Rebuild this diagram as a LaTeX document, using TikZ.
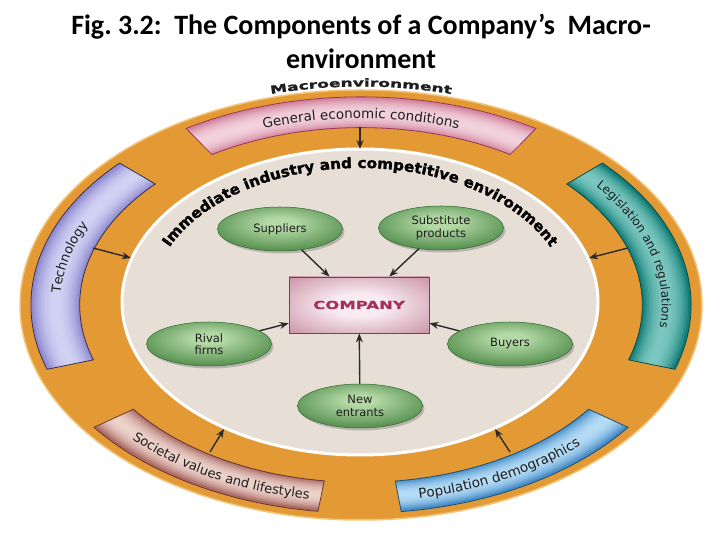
\documentclass[tikz,border=0pt]{standalone}
\usepackage{fontspec}
\setmainfont{DejaVu Sans}
\newfontfamily\titlefont{Carlito}
\newfontfamily\labfont{DejaVu Sans}
\newfontfamily\macrofont{DejaVu Sans Bold}[FakeStretch=1.55,FakeBold=1.5]
\newfontfamily\compfont{DejaVu Sans Bold}[FakeStretch=1.5,FakeBold=1]
\newfontfamily\immfont{DejaVu Sans Bold}[FakeStretch=1.05,FakeBold=1.6]
\usetikzlibrary{decorations.text,arrows.meta,shadows,shapes.geometric}

\definecolor{orangec}{HTML}{E49A34}
\definecolor{rimc}{HTML}{F3C57A}
\definecolor{innerc}{HTML}{E7DFD6}
\definecolor{gdark}{HTML}{3A7A36}
\definecolor{gedge}{HTML}{2C612A}
\definecolor{glight}{HTML}{B4D9A6}
\definecolor{gborder}{HTML}{2F6A2D}
\definecolor{cdark}{HTML}{B87089}
\definecolor{clight}{HTML}{F8ECF1}
\definecolor{cborder}{HTML}{7C3C57}
\definecolor{ctext}{HTML}{A4305C}
\definecolor{arrowc}{HTML}{2A2A2A}
\definecolor{txtc}{HTML}{1E1E1E}
\definecolor{pinkd}{HTML}{CF7E98}\definecolor{pinkl}{HTML}{F3D3DD}\definecolor{pinkb}{HTML}{9A3657}
\definecolor{purd}{HTML}{8884CC}\definecolor{purl}{HTML}{D2D2F4}\definecolor{purb}{HTML}{3B2C52}
\definecolor{teald}{HTML}{087670}\definecolor{teall}{HTML}{7CC8C0}\definecolor{tealb}{HTML}{0A4B47}
\definecolor{brownd}{HTML}{A4605A}\definecolor{brownl}{HTML}{EDD3CB}\definecolor{brownb}{HTML}{6A3831}
\definecolor{blued}{HTML}{3A84C3}\definecolor{bluel}{HTML}{B6DDF6}\definecolor{blueb}{HTML}{1E4E72}

\pgfdeclareradialshading{greenball}{\pgfpoint{0bp}{7bp}}{color(0bp)=(glight); color(6bp)=(glight); color(36bp)=(gdark); color(50bp)=(gedge); color(80bp)=(gedge)}
\pgfdeclareradialshading{compshade}{\pgfpoint{0bp}{0bp}}{color(0bp)=(clight); color(10bp)=(clight); color(46bp)=(cdark); color(80bp)=(cdark)}

\def\cx{361}\def\cy{235}\def\RX{341}\def\RY{215}
\def\sOut{0.968}\def\sIn{0.825}

\newcommand{\band}[5]{%
  \pgfmathsetmacro\oxr{\sOut*\RX}\pgfmathsetmacro\oyr{\sOut*\RY}%
  \pgfmathsetmacro\ixr{\sIn*\RX}\pgfmathsetmacro\iyr{\sIn*\RY}%
  \begin{scope}
    \clip ({\cx+\oxr*cos(#1)},{\cy+\oyr*sin(#1)}) arc[start angle=#1,end angle=#2,x radius=\oxr,y radius=\oyr]
      -- ({\cx+\ixr*cos(#2)},{\cy+\iyr*sin(#2)}) arc[start angle=#2,end angle=#1,x radius=\ixr,y radius=\iyr] -- cycle;
    \foreach \k in {0,...,19}{%
      \pgfmathsetmacro\sk{\sIn+(\k+0.5)*(\sOut-\sIn)/20}%
      \pgfmathsetmacro\skx{\sk*\RX}\pgfmathsetmacro\sky{\sk*\RY}%
      \pgfmathtruncatemacro\bpc{100*(1-(2*(\k+0.5)/20-1)^2)}%
      \draw[line width=3.2pt, color=#4!\bpc!#3] (\cx,\cy) ellipse [x radius=\skx, y radius=\sky];
    }
  \end{scope}
  \draw[#5, line width=0.8pt] ({\cx+\oxr*cos(#1)},{\cy+\oyr*sin(#1)}) arc[start angle=#1,end angle=#2,x radius=\oxr,y radius=\oyr]
      -- ({\cx+\ixr*cos(#2)},{\cy+\iyr*sin(#2)}) arc[start angle=#2,end angle=#1,x radius=\ixr,y radius=\iyr] -- cycle;
}

\newcommand{\arctext}[8]{%
  \path[decorate, decoration={text along path, text align=center, text={|#7|#8}}]
    ({#1+#3*cos(#5)},{#2+#4*sin(#5)}) arc[start angle=#5, end angle=#6, x radius=#3, y radius=#4];
}

\tikzset{
  gnode/.style={ellipse, minimum width=125pt, minimum height=44pt, inner sep=0pt,
    shading=greenball, draw=gborder, line width=0.5pt, align=center, text=txtc,
    font=\labfont\fontsize{11.5}{12.5}\selectfont,
    drop shadow={shadow xshift=2pt, shadow yshift=-2.5pt, fill=black!55, opacity=0.4}},
  compbox/.style={rectangle, minimum width=140pt, minimum height=56pt, inner sep=0pt,
    shading=compshade, draw=cborder, line width=0.8pt, text=ctext,
    font=\compfont\fontsize{11}{12}\selectfont},
  arr/.style={draw=arrowc, line width=1.4pt, -{Stealth[length=9pt,width=7pt]}},
  titletext/.style={font=\titlefont\bfseries\fontsize{28}{30}\selectfont, text=black, anchor=base, inner sep=0pt}
}

\begin{document}
\begin{tikzpicture}[x=1pt,y=1pt]
\useasboundingbox (0,0) rectangle (720,540);
\fill[white] (0,0) rectangle (720,540);

% title
\node[titletext] (title1) at (361,505) {Fig.\ 3.2:\ \ The Components of a Company’s\ \ Macro-};
\node[titletext] (title2) at (361,471) {environment};

% orange macro ellipse
\fill[orangec] (\cx,\cy) ellipse [x radius=\RX, y radius=\RY];
\draw[rimc, line width=1.5pt] (\cx,\cy) ellipse [x radius=\RX, y radius=\RY];

% bands
\band{58}{122}{pinkd}{pinkl}{pinkb}
\band{137}{198}{purd}{purl}{purb}
\band{-18}{43}{teald}{teall}{tealb}
\band{216}{262.5}{brownd}{brownl}{brownb}
\band{277}{324}{blued}{bluel}{blueb}

% inner ellipse
\fill[innerc] (360,238) ellipse [x radius=238, y radius=153];
\draw[white, line width=3pt] (360,238) ellipse [x radius=238, y radius=153];

% curved texts
\arctext{361}{235}{345.8}{218.5}{112}{68}{\macrofont\fontsize{11}{12}\selectfont\color{txtc}}{Macroenvironment}
\arctext{361}{235}{296}{186.6}{125}{55}{\labfont\fontsize{13.5}{15}\selectfont\color{txtc}}{General economic conditions}
\arctext{361}{235}{300.8}{189.6}{203}{133}{\labfont\fontsize{13}{15}\selectfont\color{txtc}}{Technology}
\arctext{361}{235}{300.8}{189.6}{49.5}{-20.5}{\labfont\fontsize{12}{14}\selectfont\color{txtc}}{Legislation and regulations}
\arctext{361}{235}{312.4}{196.9}{204.5}{274.5}{\labfont\fontsize{13}{15}\selectfont\color{txtc}}{Societal values and lifestyles}
\arctext{361}{235}{312.4}{196.9}{265}{335}{\labfont\fontsize{13.5}{15}\selectfont\color{txtc}}{Population demographics}
\arctext{360}{238}{208.5}{134}{172}{8}{\immfont\fontsize{14.5}{15}\selectfont\color{black}}{Immediate industry and competitive environment}

% nodes
\node[gnode] (sup) at (280,311) {Suppliers};
\node[gnode] (sub) at (441,312) {Substitute\\products};
\node[gnode] (riv) at (209,196) {Rival\\firms};
\node[gnode] (buy) at (510,196) {Buyers};
\node[gnode] (new) at (360,134) {New\\entrants};
\node[compbox] (comp) at (359,235) {COMPANY};

% arrows inside
\draw[arr] (sup) -- (comp);
\draw[arr] (sub) -- (comp);
\draw[arr] (riv) -- (comp);
\draw[arr] (buy) -- (comp);
\draw[arr] (new) -- (comp);

% arrows from macro forces
\coordinate (genT) at (360,413); \coordinate (genH) at (360,391);
\coordinate (techT) at (93,292); \coordinate (techH) at (131,282);
\coordinate (legT) at (628,292); \coordinate (legH) at (589,282);
\coordinate (socT) at (210,88); \coordinate (socH) at (224,111);
\coordinate (popT) at (510,88); \coordinate (popH) at (495,111);
\draw[arr] (genT) -- (genH);
\draw[arr] (techT) -- (techH);
\draw[arr] (legT) -- (legH);
\draw[arr] (socT) -- (socH);
\draw[arr] (popT) -- (popH);
\end{tikzpicture}
\end{document}
